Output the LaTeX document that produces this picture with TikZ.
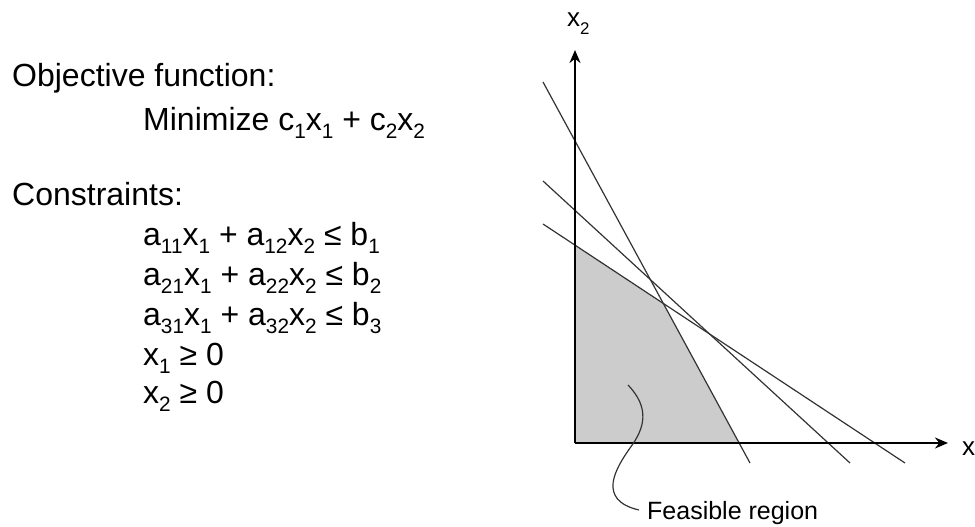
\documentclass[tikz,border=0pt]{standalone}
\usepackage{fontspec}
\setmainfont{Liberation Sans}
\usetikzlibrary{arrows.meta}
\usetikzlibrary{positioning}

\newcommand{\lowsub}[1]{\raisebox{-0.27em}{\scalebox{0.65}{#1}}}

\begin{document}
\begin{tikzpicture}[x=1pt,y=-1pt,
        txt/.style={anchor=base west,inner sep=0pt,font=\fontsize{32}{38}\selectfont},
        lbl/.style={anchor=base west,inner sep=0pt,font=\fontsize{26}{30}\selectfont},
        axis/.style={line width=2.6pt,-{Stealth[length=13pt,width=11pt]}},
        bound/.style={line width=1.2pt,black!80}]
            \useasboundingbox (0,0) rectangle (975,527);

            \node[txt] (obj) at (12,86) {Objective function:};
            \node[txt] (min) at (143,130) {Minimize c\lowsub{1}x\lowsub{1} + c\lowsub{2}x\lowsub{2}};
            \node[txt] (con) at (12,205) {Constraints:};
            \foreach \i/\y in {1/245,2/285,3/325}{
                \node[txt] (c\i) at (143,\y) {a\lowsub{\i1}x\lowsub{1} + a\lowsub{\i2}x\lowsub{2} ≤ b\lowsub{\i}};
            }
            \node[txt] (nn1) at (143,365) {x\lowsub{1} ≥ 0};
            \node[txt] (nn2) at (143,403) {x\lowsub{2} ≥ 0};

            \coordinate (o) at (575,443);
            \coordinate (ytop) at (575,50);
            \coordinate (xend) at (948,443);
            \coordinate (p1) at (575,245);
            \coordinate (p2) at (663,303);
            \coordinate (p3) at (739,443);

            \fill[black!20] (o)--(p1)--(p2)--(p3)--cycle;

            \foreach \ya/\xb in {82/750,181/850,224/905}{
                \draw[bound] (543,\ya)--(\xb,463);
            }

            \draw[axis] (o)--(ytop);
            \draw[axis] (o)--(xend);

            \node[lbl] (x2) at (567,27) {x\lowsub{2}};
            \node[lbl] (x1) at (962,455) {x};

            \node[lbl,font=\fontsize{25}{30}\selectfont] (feas) at (647,519) {Feasible region};
            \coordinate (tip) at (628,385);
            \coordinate (tail) at ([xshift=-8pt,yshift=9pt]feas.base west);
            \draw[line width=1.2pt,black!80] (tip) .. controls (650,408) and (645,428) .. (630,448)
                .. controls (616,468) and (596,500) .. (tail);
        \end{tikzpicture}
\end{document}
